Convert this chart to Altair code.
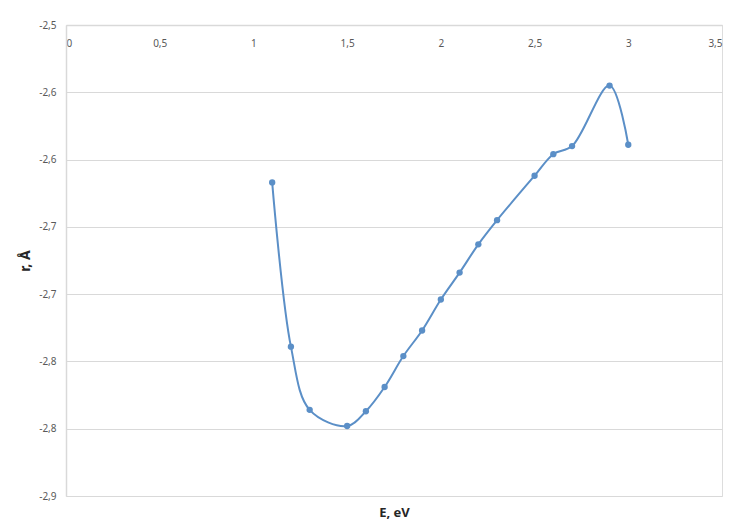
import altair as alt
import pandas as pd

# Data
energy = [1.1, 1.2, 1.3, 1.5, 1.6, 1.7, 1.8, 1.9, 2.0, 2.1, 2.2, 2.3, 2.5, 2.6, 2.7, 2.9, 3.0]
radius = [-2.617, -2.739, -2.786, -2.798, -2.787, -2.769, -2.746, -2.727, -2.704,
          -2.684, -2.663, -2.645, -2.612, -2.596, -2.590, -2.545, -2.589]

x_ticks = [0, 0.5, 1, 1.5, 2, 2.5, 3, 3.5]
x_tick_labels = ["0", "0,5", "1", "1,5", "2", "2,5", "3", "3,5"]
y_ticks = [-2.5, -2.55, -2.6, -2.65, -2.7, -2.75, -2.8, -2.85]
y_tick_labels = ["-2,5", "-2,6", "-2,6", "-2,7", "-2,7", "-2,8", "-2,8", "-2,9"]

df = pd.DataFrame({"E": energy, "r": radius})

W, H = 656, 471
BLUE = "#5b8fc7"
FONT = "Noto Sans"


def label_expr(ticks, labels):
    t = ",".join(repr(v) for v in ticks)
    l = ",".join("'" + s + "'" for s in labels)
    return f"[{l}][indexof([{t}], datum.value)]"


x_enc = alt.X(
    "E:Q",
    scale=alt.Scale(domain=[0, 3.5], nice=False, zero=False),
    axis=alt.Axis(
        values=x_ticks,
        labelExpr=label_expr(x_ticks, x_tick_labels),
        orient="bottom",
        offset=-H,
        grid=False,
        ticks=False,
        domainColor="#d9d9d9",
        domainWidth=1.5,
        labelPadding=13,
        labelFont=FONT,
        labelFontSize=10,
        labelColor="#595959",
        title="E, eV",
        titleFont=FONT,
        titleFontSize=13,
        titleFontWeight="bold",
        titleColor="#262626",
        titleY=H + 16,
        titleBaseline="middle",
    ),
)
y_enc = alt.Y(
    "r:Q",
    scale=alt.Scale(domain=[-2.85, -2.5], nice=False, zero=False),
    axis=alt.Axis(
        values=y_ticks,
        labelExpr=label_expr(y_ticks, y_tick_labels),
        grid=True,
        gridColor="#d9d9d9",
        gridWidth=1.2,
        ticks=False,
        domainColor="#d9d9d9",
        domainWidth=1.5,
        labelPadding=10,
        labelFont=FONT,
        labelFontSize=10,
        labelColor="#595959",
        title="r, Å",
        titleFont=FONT,
        titleFontSize=14,
        titleFontWeight="bold",
        titleColor="#262626",
        titlePadding=6,
    ),
)

line = alt.Chart(df).mark_line(
    interpolate="catmull-rom", color=BLUE, strokeWidth=2
).encode(x=x_enc, y=y_enc)

points = alt.Chart(df).mark_point(
    filled=True, size=40, color=BLUE, opacity=1
).encode(x="E:Q", y="r:Q")

chart = (
    alt.layer(line, points)
    .properties(
        width=W,
        height=H,
        autosize=alt.AutoSizeParams(type="none"),
        padding={"left": 58, "top": 17, "right": 7, "bottom": 28},
    )
    .configure_view(stroke=None)
    .configure(background="white")
)

chart.save("out.html", embed_options={"renderer": "svg", "actions": False})
